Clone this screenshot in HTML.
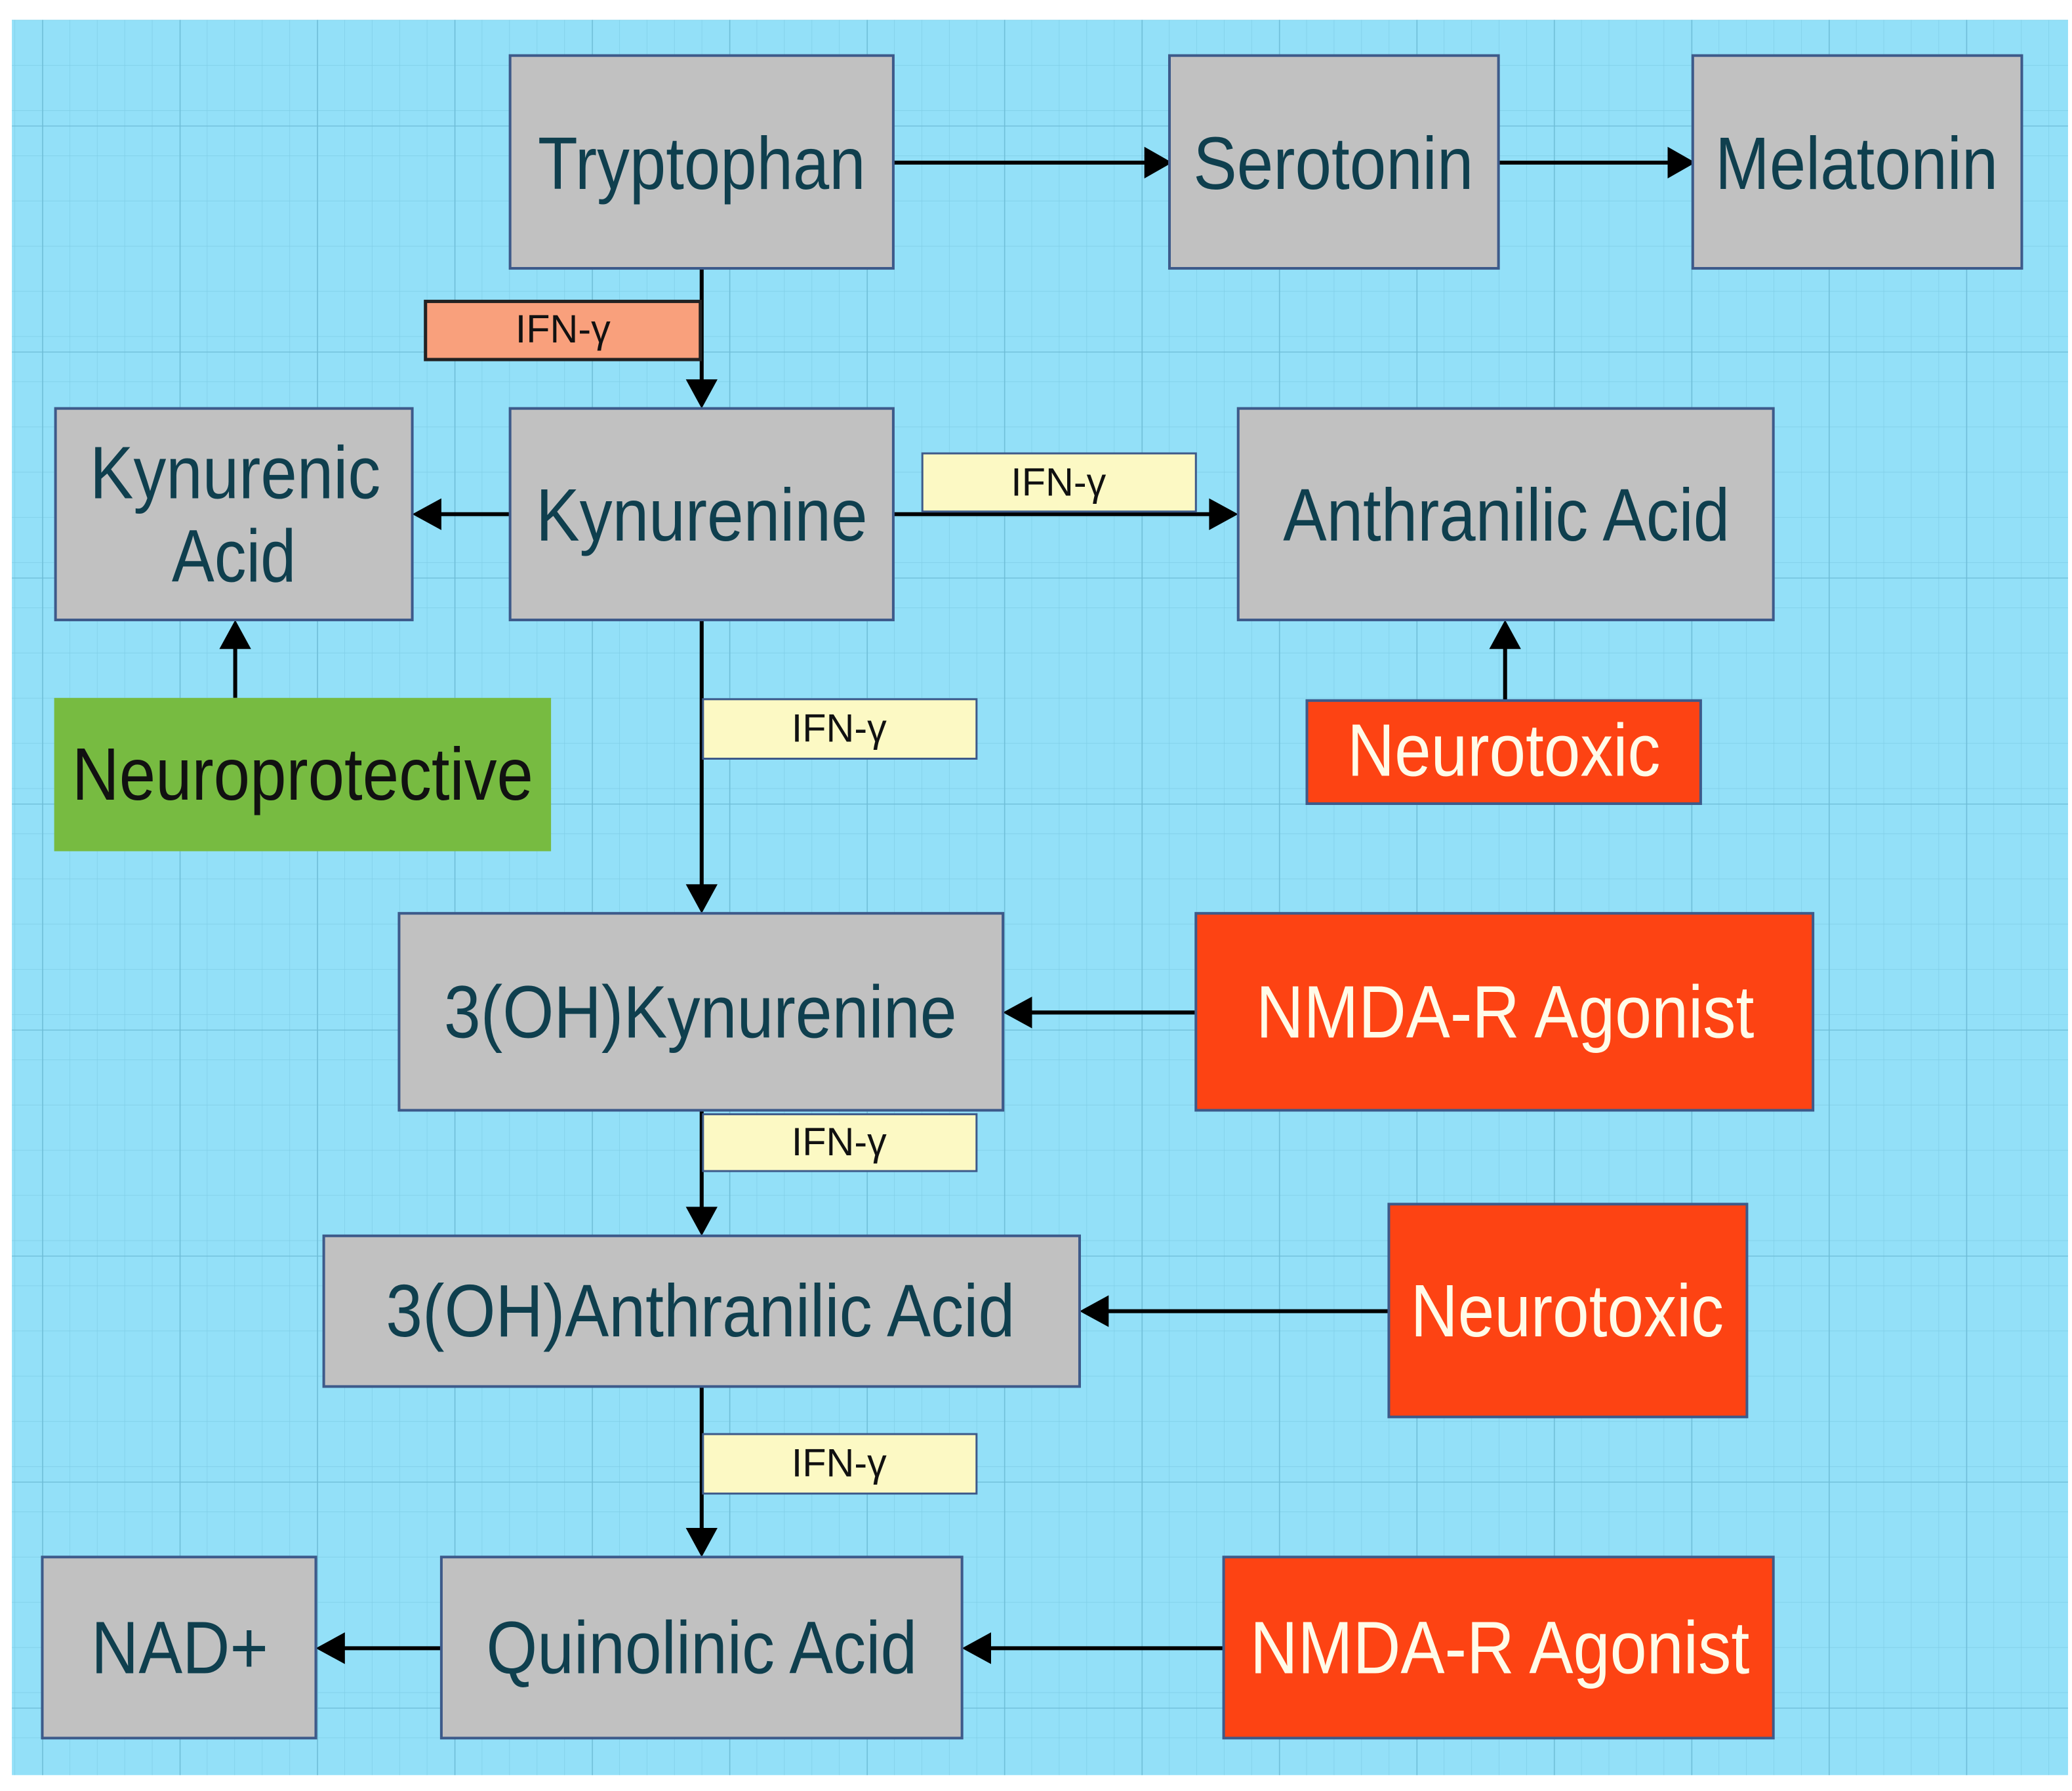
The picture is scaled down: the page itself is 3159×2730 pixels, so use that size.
<!DOCTYPE html>
<html><head><meta charset="utf-8"><style>html,body{margin:0;padding:0;background:#fff}svg{display:block}</style></head>
<body>
<svg width="3159" height="2730" viewBox="0 0 1568 1355" xmlns="http://www.w3.org/2000/svg" font-family="'Liberation Sans', sans-serif">
<defs>
<pattern id="minor" x="11" y="15" width="20.8" height="34.2" patternUnits="userSpaceOnUse">
<path d="M0 0V34.2M0 0H20.8" stroke="#7fcde6" stroke-width="0.7" fill="none"/>
</pattern>
<pattern id="major" x="32" y="95" width="104" height="171" patternUnits="userSpaceOnUse">
<path d="M0 0V171M0 0H104" stroke="#6dbcd6" stroke-width="1.3" fill="none"/>
</pattern>
</defs>
<rect x="9" y="15" width="1556" height="1328" fill="#93e0f8"/>
<rect x="9" y="15" width="1556" height="1328" fill="url(#minor)"/>
<rect x="9" y="15" width="1556" height="1328" fill="url(#major)"/>

<g stroke="#000" stroke-width="3" fill="none">
<path d="M676 123H868"/><path d="M1134 123H1264"/>
<path d="M531 203V290"/><path d="M386 389H331"/><path d="M676 389H918"/>
<path d="M178 528V488"/><path d="M1139 530V488"/>
<path d="M531 469V672"/><path d="M905 766H778"/><path d="M531 840V916"/>
<path d="M1051 992H836"/><path d="M531 1049V1159"/><path d="M334 1247H258"/><path d="M926 1247H747"/>
</g>
<g fill="#000">
<polygon points="887,123 866,111 866,135"/>
<polygon points="1283,123 1262,111 1262,135"/>
<polygon points="531,309 519,287 543,287"/>
<polygon points="312,389 334,377 334,401"/>
<polygon points="937,389 915,377 915,401"/>
<polygon points="178,469 166,491 190,491"/>
<polygon points="1139,469 1127,491 1151,491"/>
<polygon points="531,691 519,669 543,669"/>
<polygon points="759,766 781,754 781,778"/>
<polygon points="531,935 519,913 543,913"/>
<polygon points="817,992 839,980 839,1004"/>
<polygon points="531,1178 519,1156 543,1156"/>
<polygon points="239,1247 261,1235 261,1259"/>
<polygon points="728,1247 750,1235 750,1259"/>
</g>

<g stroke="#3d5a8a" stroke-width="2">
<rect x="386" y="42" width="290" height="161" fill="#c1c1c1"/>
<rect x="885" y="42" width="249" height="161" fill="#c1c1c1"/>
<rect x="1281" y="42" width="249" height="161" fill="#c1c1c1"/>
<rect x="42" y="309" width="270" height="160" fill="#c1c1c1"/>
<rect x="386" y="309" width="290" height="160" fill="#c1c1c1"/>
<rect x="937" y="309" width="405" height="160" fill="#c1c1c1"/>
<rect x="989" y="530" width="298" height="78" fill="#fd4313"/>
<rect x="302" y="691" width="457" height="149" fill="#c1c1c1"/>
<rect x="905" y="691" width="467" height="149" fill="#fd4313"/>
<rect x="245" y="935" width="572" height="114" fill="#c1c1c1"/>
<rect x="1051" y="911" width="271" height="161" fill="#fd4313"/>
<rect x="32" y="1178" width="207" height="137" fill="#c1c1c1"/>
<rect x="334" y="1178" width="394" height="137" fill="#c1c1c1"/>
<rect x="926" y="1178" width="416" height="137" fill="#fd4313"/>
</g>
<rect x="41" y="528" width="376" height="116" fill="#77bb41"/>
<rect x="322" y="228" width="208" height="44" fill="#f9a07c" stroke="#222" stroke-width="2.5"/>
<g stroke="#3d5a8a" stroke-width="1.5" fill="#fcf9c4">
<rect x="698" y="343" width="207" height="44"/>
<rect x="532" y="529" width="207" height="45"/>
<rect x="532" y="843" width="207" height="43"/>
<rect x="532" y="1085" width="207" height="45"/>
</g>

<g fill="#0f3f4e" font-size="56" text-anchor="middle">
<text x="531" y="143" textLength="248" lengthAdjust="spacingAndGlyphs">Tryptophan</text>
<text x="1009" y="143" textLength="212" lengthAdjust="spacingAndGlyphs">Serotonin</text>
<text x="1405" y="143" textLength="214" lengthAdjust="spacingAndGlyphs">Melatonin</text>
<text x="178" y="377" textLength="220" lengthAdjust="spacingAndGlyphs">Kynurenic</text>
<text x="177" y="440" textLength="94" lengthAdjust="spacingAndGlyphs">Acid</text>
<text x="531" y="409" textLength="251" lengthAdjust="spacingAndGlyphs">Kynurenine</text>
<text x="1140" y="409" textLength="338" lengthAdjust="spacingAndGlyphs">Anthranilic Acid</text>
<text x="530" y="785" textLength="388" lengthAdjust="spacingAndGlyphs">3(OH)Kynurenine</text>
<text x="530" y="1011" textLength="476" lengthAdjust="spacingAndGlyphs">3(OH)Anthranilic Acid</text>
<text x="136" y="1266" textLength="134" lengthAdjust="spacingAndGlyphs">NAD+</text>
<text x="531" y="1266" textLength="326" lengthAdjust="spacingAndGlyphs">Quinolinic Acid</text>
</g>
<text x="229" y="605" font-size="56" fill="#111" text-anchor="middle" textLength="349" lengthAdjust="spacingAndGlyphs">Neuroprotective</text>
<g fill="#fffbe8" font-size="56" text-anchor="middle">
<text x="1138" y="587" textLength="237" lengthAdjust="spacingAndGlyphs">Neurotoxic</text>
<text x="1139" y="785" textLength="377" lengthAdjust="spacingAndGlyphs">NMDA-R Agonist</text>
<text x="1186" y="1011" textLength="237" lengthAdjust="spacingAndGlyphs">Neurotoxic</text>
<text x="1135" y="1266" textLength="378" lengthAdjust="spacingAndGlyphs">NMDA-R Agonist</text>
</g>
<g fill="#111" font-size="30" text-anchor="middle">
<text x="426" y="259" textLength="72" lengthAdjust="spacingAndGlyphs">IFN-γ</text>
<text x="801" y="375" textLength="72" lengthAdjust="spacingAndGlyphs">IFN-γ</text>
<text x="635" y="561" textLength="72" lengthAdjust="spacingAndGlyphs">IFN-γ</text>
<text x="635" y="874" textLength="72" lengthAdjust="spacingAndGlyphs">IFN-γ</text>
<text x="635" y="1117" textLength="72" lengthAdjust="spacingAndGlyphs">IFN-γ</text>
</g>
</svg>
</body></html>
